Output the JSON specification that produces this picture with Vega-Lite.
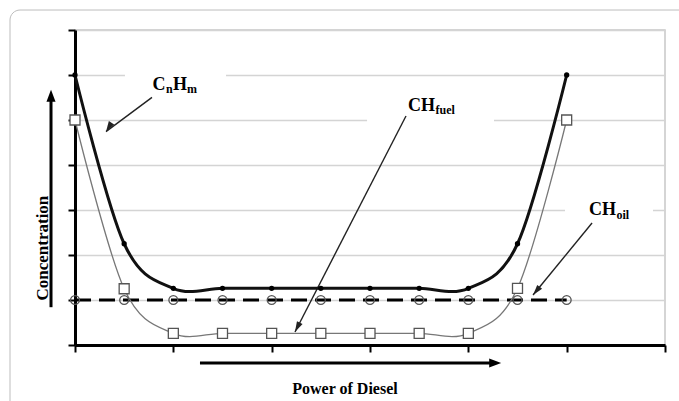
{
  "$schema": "https://vega.github.io/schema/vega-lite/v6.json",
  "width": 590,
  "height": 315,
  "autosize": {"type": "none"},
  "padding": {"left": 75, "top": 30, "right": 14, "bottom": 56},
  "background": "white",
  "config": {
    "view": {"stroke": "#c8c8c8", "strokeWidth": 1.5},
    "text": {"font": "Liberation Serif", "fontWeight": "bold", "color": "black"}
  },
  "datasets": {
    "curves": [
      {"x": 0, "y": 6, "s": "CnHm"}, {"x": 0.5, "y": 2.25, "s": "CnHm"}, {"x": 1, "y": 1.26, "s": "CnHm"},
      {"x": 1.5, "y": 1.26, "s": "CnHm"}, {"x": 2, "y": 1.26, "s": "CnHm"}, {"x": 2.5, "y": 1.26, "s": "CnHm"},
      {"x": 3, "y": 1.26, "s": "CnHm"}, {"x": 3.5, "y": 1.26, "s": "CnHm"}, {"x": 4, "y": 1.26, "s": "CnHm"},
      {"x": 4.5, "y": 2.25, "s": "CnHm"}, {"x": 5, "y": 6, "s": "CnHm"},
      {"x": 0, "y": 5, "s": "CHfuel"}, {"x": 0.5, "y": 1.25, "s": "CHfuel"}, {"x": 1, "y": 0.26, "s": "CHfuel"},
      {"x": 1.5, "y": 0.26, "s": "CHfuel"}, {"x": 2, "y": 0.26, "s": "CHfuel"}, {"x": 2.5, "y": 0.26, "s": "CHfuel"},
      {"x": 3, "y": 0.26, "s": "CHfuel"}, {"x": 3.5, "y": 0.26, "s": "CHfuel"}, {"x": 4, "y": 0.26, "s": "CHfuel"},
      {"x": 4.5, "y": 1.26, "s": "CHfuel"}, {"x": 5, "y": 5, "s": "CHfuel"},
      {"x": 0, "y": 1, "s": "CHoil"}, {"x": 0.5, "y": 1, "s": "CHoil"}, {"x": 1, "y": 1, "s": "CHoil"},
      {"x": 1.5, "y": 1, "s": "CHoil"}, {"x": 2, "y": 1, "s": "CHoil"}, {"x": 2.5, "y": 1, "s": "CHoil"},
      {"x": 3, "y": 1, "s": "CHoil"}, {"x": 3.5, "y": 1, "s": "CHoil"}, {"x": 4, "y": 1, "s": "CHoil"},
      {"x": 4.5, "y": 1, "s": "CHoil"}, {"x": 5, "y": 1, "s": "CHoil"}
    ],
    "labels": [
      {"x": 0.788, "y": 5.667, "t": "C", "p": "main"},
      {"x": 0.925, "y": 5.6, "t": "n", "p": "sub"},
      {"x": 0.997, "y": 5.667, "t": "H", "p": "main"},
      {"x": 1.139, "y": 5.6, "t": "m", "p": "sub"},
      {"x": 3.387, "y": 5.2, "t": "CH", "p": "main"},
      {"x": 3.666, "y": 5.133, "t": "fuel", "p": "sub"},
      {"x": 5.227, "y": 2.889, "t": "CH", "p": "main"},
      {"x": 5.507, "y": 2.8, "t": "oil", "p": "sub"}
    ],
    "boxes": [
      {"x": 0.508, "y": 5.85, "x2": 1.536, "y2": 6.15},
      {"x": 2.97, "y": 4.85, "x2": 4.261, "y2": 5.15},
      {"x": 4.983, "y": 2.85, "x2": 5.878, "y2": 3.15}
    ],
    "arrows": [
      {"k": "CnHm", "x": 0.783, "y": 5.504, "x2": 0.315, "y2": 4.741},
      {"k": "CHfuel", "x": 3.366, "y": 5.089, "x2": 2.237, "y2": 0.289},
      {"k": "CHoil", "x": 5.258, "y": 2.711, "x2": 4.658, "y2": 1.111},
      {"k": "up", "x": -0.244, "y": 0.84, "x2": -0.244, "y2": 5.511},
      {"k": "right", "x": 1.271, "y": -0.4, "x2": 4.261, "y2": -0.4}
    ],
    "frame": [
      {"x": -0.661, "y": 7.444, "x2": 7.5, "y2": -2}
    ]
  },
  "encoding": {
    "x": {
      "field": "x", "type": "quantitative",
      "scale": {"domain": [0, 6], "nice": false, "zero": false},
      "axis": {
        "values": [0, 1, 2, 3, 4, 5, 6], "labels": false, "grid": false,
        "domainColor": "black", "domainWidth": 3, "tickColor": "black", "tickWidth": 2, "tickSize": 7,
        "title": "Power of Diesel", "titleFont": "Liberation Serif", "titleFontWeight": "bold",
        "titleFontSize": 16, "titleColor": "black", "titleX": 269.5, "titleY": 48,
        "titleAlign": "center", "titleBaseline": "alphabetic"
      }
    },
    "y": {
      "field": "y", "type": "quantitative",
      "scale": {"domain": [0, 7], "nice": false, "zero": false},
      "axis": {
        "values": [0, 1, 2, 3, 4, 5, 6, 7], "labels": false, "grid": true,
        "gridColor": "#d4d4d4", "gridWidth": 1.5,
        "domainColor": "black", "domainWidth": 3, "tickColor": "black", "tickWidth": 2, "tickSize": 7,
        "title": "Concentration", "titleFont": "Liberation Serif", "titleFontWeight": "bold",
        "titleFontSize": 17, "titleColor": "black", "titleAngle": 270, "titleAlign": "left",
        "titleBaseline": "alphabetic", "titleX": -28, "titleY": 270
      }
    }
  },
  "layer": [
    {
      "data": {"name": "frame"},
      "mark": {"type": "rect", "fillOpacity": 0, "stroke": "#bdbdbd", "strokeWidth": 1, "cornerRadius": 10},
      "encoding": {"x2": {"field": "x2"}, "y2": {"field": "y2"}}
    },
    {
      "data": {"name": "boxes"},
      "mark": {"type": "rect", "fill": "white", "strokeWidth": 0},
      "encoding": {"x2": {"field": "x2"}, "y2": {"field": "y2"}}
    },
    {
      "data": {"name": "arrows"},
      "transform": [{"filter": "datum.k !== 'up' && datum.k !== 'right'"}],
      "mark": {"type": "rule", "color": "#222", "strokeWidth": 1.4},
      "encoding": {"x2": {"field": "x2"}, "y2": {"field": "y2"}}
    },
    {
      "data": {"name": "arrows"},
      "transform": [{"filter": "datum.k === 'up' || datum.k === 'right'"}],
      "mark": {"type": "rule", "color": "black", "strokeWidth": 3},
      "encoding": {"x2": {"field": "x2"}, "y2": {"field": "y2"}}
    },
    {
      "data": {"name": "curves"},
      "transform": [{"filter": "datum.s === 'CHoil'"}],
      "mark": {"type": "line", "color": "black", "strokeWidth": 3, "strokeDash": [16, 8]},
      "encoding": {}
    },
    {
      "data": {"name": "curves"},
      "transform": [{"filter": "datum.s === 'CnHm'"}],
      "mark": {"type": "line", "color": "#111", "strokeWidth": 3, "interpolate": "cardinal"},
      "encoding": {}
    },
    {
      "data": {"name": "curves"},
      "transform": [{"filter": "datum.s === 'CHfuel'"}],
      "mark": {"type": "line", "color": "#777", "strokeWidth": 1.3, "interpolate": "cardinal"},
      "encoding": {}
    },
    {
      "data": {"name": "curves"},
      "transform": [{"filter": "datum.s === 'CHoil'"}],
      "mark": {"type": "point", "shape": "circle", "filled": false, "stroke": "#555", "strokeWidth": 1.3, "size": 80, "opacity": 1},
      "encoding": {}
    },
    {
      "data": {"name": "curves"},
      "transform": [{"filter": "datum.s === 'CHfuel'"}],
      "mark": {"type": "point", "shape": "square", "filled": true, "fill": "white", "stroke": "#555", "strokeWidth": 1.3, "size": 100, "opacity": 1},
      "encoding": {}
    },
    {
      "data": {"name": "curves"},
      "transform": [{"filter": "datum.s === 'CnHm'"}],
      "mark": {"type": "point", "shape": "circle", "filled": true, "color": "black", "size": 28, "opacity": 1},
      "encoding": {}
    },
    {
      "data": {"name": "arrows"},
      "transform": [{"filter": "datum.k === 'CnHm'"}],
      "mark": {"type": "point", "shape": "M0,0L-0.3,1L0.3,1Z", "filled": true, "color": "#222", "size": 441, "angle": 211.9, "opacity": 1},
      "encoding": {
        "x": {"field": "x2", "type": "quantitative", "scale": {"domain": [0, 6], "nice": false, "zero": false}},
        "y": {"field": "y2", "type": "quantitative", "scale": {"domain": [0, 7], "nice": false, "zero": false}}
      }
    },
    {
      "data": {"name": "arrows"},
      "transform": [{"filter": "datum.k === 'CHfuel'"}],
      "mark": {"type": "point", "shape": "M0,0L-0.3,1L0.3,1Z", "filled": true, "color": "#222", "size": 441, "angle": 207.2, "opacity": 1},
      "encoding": {
        "x": {"field": "x2", "type": "quantitative", "scale": {"domain": [0, 6], "nice": false, "zero": false}},
        "y": {"field": "y2", "type": "quantitative", "scale": {"domain": [0, 7], "nice": false, "zero": false}}
      }
    },
    {
      "data": {"name": "arrows"},
      "transform": [{"filter": "datum.k === 'CHoil'"}],
      "mark": {"type": "point", "shape": "M0,0L-0.3,1L0.3,1Z", "filled": true, "color": "#222", "size": 441, "angle": 219.3, "opacity": 1},
      "encoding": {
        "x": {"field": "x2", "type": "quantitative", "scale": {"domain": [0, 6], "nice": false, "zero": false}},
        "y": {"field": "y2", "type": "quantitative", "scale": {"domain": [0, 7], "nice": false, "zero": false}}
      }
    },
    {
      "data": {"name": "arrows"},
      "transform": [{"filter": "datum.k === 'up'"}],
      "mark": {"type": "point", "shape": "M0,-0.6L-0.38,0.4L0.38,0.4Z", "filled": true, "color": "black", "size": 576, "angle": 0, "opacity": 1},
      "encoding": {
        "x": {"field": "x2", "type": "quantitative", "scale": {"domain": [0, 6], "nice": false, "zero": false}},
        "y": {"field": "y2", "type": "quantitative", "scale": {"domain": [0, 7], "nice": false, "zero": false}}
      }
    },
    {
      "data": {"name": "arrows"},
      "transform": [{"filter": "datum.k === 'right'"}],
      "mark": {"type": "point", "shape": "M0,-0.6L-0.38,0.4L0.38,0.4Z", "filled": true, "color": "black", "size": 576, "angle": 90, "opacity": 1},
      "encoding": {
        "x": {"field": "x2", "type": "quantitative", "scale": {"domain": [0, 6], "nice": false, "zero": false}},
        "y": {"field": "y2", "type": "quantitative", "scale": {"domain": [0, 7], "nice": false, "zero": false}}
      }
    },
    {
      "data": {"name": "labels"},
      "transform": [{"filter": "datum.p === 'main'"}],
      "mark": {"type": "text", "align": "left", "baseline": "alphabetic", "fontSize": 18, "font": "Liberation Serif", "fontWeight": "bold", "color": "black"},
      "encoding": {"text": {"field": "t"}}
    },
    {
      "data": {"name": "labels"},
      "transform": [{"filter": "datum.p === 'sub'"}],
      "mark": {"type": "text", "align": "left", "baseline": "alphabetic", "fontSize": 12, "font": "Liberation Serif", "fontWeight": "bold", "color": "black"},
      "encoding": {"text": {"field": "t"}}
    }
  ]
}
